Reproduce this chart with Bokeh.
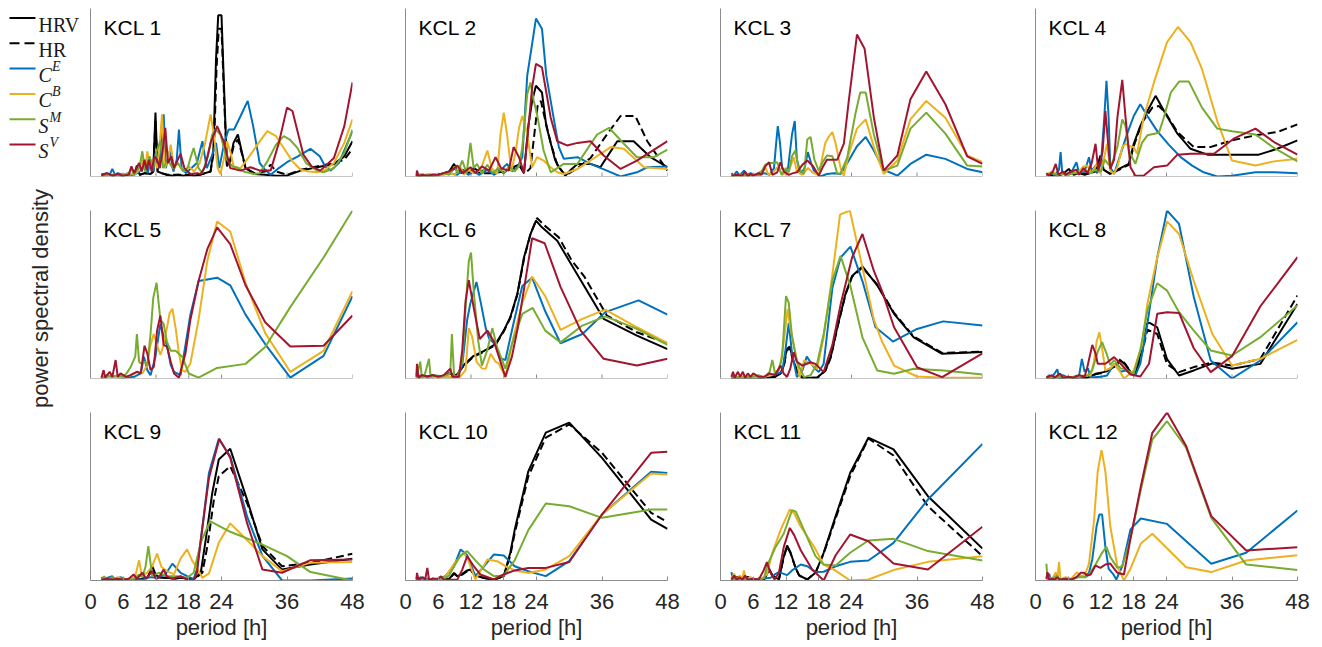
import numpy as np
from bokeh.plotting import figure
from bokeh.layouts import row, column
from bokeh.models import Range1d, FixedTicker, Label, Span
from bokeh.embed import file_html
from bokeh.resources import INLINE
from bokeh.core.properties import value

# ---------------- data (period [h], normalised power spectral density) ----------------
PANEL_TITLES = ["KCL 1", "KCL 2", "KCL 3", "KCL 4", "KCL 5", "KCL 6",
                "KCL 7", "KCL 8", "KCL 9", "KCL 10", "KCL 11", "KCL 12"]
X_TICKS = [0, 6, 12, 18, 24, 36, 48]
SERIES = ["HRV", "HR", "CE", "CB", "SM", "SV"]

KCL1_HRV = [[2,0.01],[3,0.015],[4,0.005],[5,0.01],[6,0.005],[7,0.015],[8,0.01],[8.5,0.065],[9,0.01],[10,0.02],[11,0.015],[11.5,0.03],[11.9,0.38],[12.3,0.03],[13,0.02],[14,0.01],[15,0.005],[16,0.01],[17,0.005],[18,0.01],[19,0.005],[20,0.01],[21,0.02],[22,0.03],[22.5,0.15],[23.0,0.7],[23.4,0.96],[24.0,0.96],[24.5,0.5],[25.0,0.06],[25.6,0.1],[26.2,0.2],[27,0.25],[27.7,0.15],[28.4,0.05],[30,0.015],[32,0.01],[34,0.005],[36,0.005],[38.5,0.035],[41.5,0.055],[44.6,0.075],[46.5,0.12],[48,0.21]]
KCL1_HR = [[2,0.01],[3,0.015],[4,0.005],[5,0.01],[6,0.005],[7,0.015],[8,0.01],[8.5,0.05],[9,0.01],[10,0.02],[11,0.015],[11.5,0.03],[11.9,0.33],[12.3,0.03],[13,0.02],[14,0.01],[16,0.01],[18,0.01],[20,0.01],[21,0.02],[22,0.03],[22.6,0.15],[23.1,0.65],[23.5,0.88],[24.0,0.88],[24.5,0.45],[25.0,0.06],[25.6,0.09],[26.2,0.18],[27,0.22],[27.7,0.14],[28.4,0.05],[30,0.02],[32,0.03],[33,0.07],[34,0.03],[36,0.01],[38.5,0.04],[41.5,0.06],[44.6,0.08],[46.5,0.1],[48,0.165]]
KCL1_CE = [[2,0.01],[3,0.02],[3.5,0.01],[4,0.045],[4.5,0.01],[5,0.02],[6,0.01],[7,0.02],[8,0.01],[9,0.03],[10,0.07],[10.5,0.02],[11,0.1],[11.5,0.03],[12,0.15],[12.5,0.05],[13.1,0.22],[13.4,0.37],[13.8,0.05],[14.5,0.15],[15.2,0.03],[15.8,0.1],[16.2,0.28],[16.7,0.05],[17.5,0.02],[18.5,0.05],[19.5,0.08],[20.5,0.21],[21.3,0.05],[22.2,0.12],[23,0.2],[23.6,0.05],[24.5,0.2],[25.3,0.28],[26.3,0.28],[27.5,0.36],[28.8,0.45],[29.8,0.3],[31,0.08],[32,0.04],[33,0.01],[34.5,0.05],[36,0.085],[38,0.12],[40.3,0.165],[42,0.12],[43,0.06],[44,0.035],[45.5,0.08],[48,0.27]]
KCL1_CB = [[2,0.005],[4,0.01],[6,0.01],[7,0.02],[8,0.01],[9,0.04],[9.5,0.1],[10,0.03],[10.4,0.15],[11,0.05],[11.6,0.1],[12.2,0.05],[12.7,0.2],[13.1,0.37],[13.6,0.05],[14.2,0.1],[14.7,0.19],[15.3,0.05],[16,0.08],[17,0.03],[18,0.06],[19,0.03],[20,0.08],[21,0.2],[22,0.37],[22.6,0.25],[23.3,0.05],[23.8,0.015],[24.4,0.1],[25,0.21],[25.6,0.15],[26.3,0.05],[27.5,0.05],[29,0.115],[30.8,0.2],[32.4,0.27],[34,0.24],[35.4,0.17],[37,0.09],[38.5,0.04],[40,0.03],[41.5,0.025],[43,0.04],[44.6,0.08],[46.5,0.2],[48,0.34]]
KCL1_SM = [[2,0.005],[4,0.01],[6,0.005],[7,0.02],[7.5,0.05],[8,0.01],[9,0.06],[9.5,0.15],[10,0.03],[10.8,0.12],[11.5,0.05],[12.1,0.15],[12.8,0.21],[13.3,0.05],[14.2,0.1],[15,0.05],[16,0.08],[17,0.03],[17.8,0.05],[18.4,0.12],[18.9,0.17],[19.8,0.05],[20.5,0.02],[21.5,0.12],[22.3,0.25],[22.9,0.28],[23.8,0.25],[25,0.1],[26,0.06],[26.9,0.055],[28,0.03],[30,0.015],[31,0.02],[32.4,0.09],[34,0.19],[35.4,0.24],[36.5,0.22],[37.9,0.17],[39.5,0.08],[41.5,0.035],[42.7,0.025],[44.6,0.05],[46.5,0.14],[48,0.28]]
KCL1_SV = [[2,0.005],[3,0.02],[4,0.005],[5,0.015],[6,0.005],[7,0.01],[7.5,0.06],[8,0.02],[8.9,0.08],[9.4,0.03],[9.9,0.1],[10.3,0.04],[10.7,0.1],[11.2,0.03],[11.7,0.12],[12.2,0.1],[12.7,0.05],[13.2,0.15],[13.7,0.29],[14.2,0.08],[14.8,0.12],[15.3,0.05],[16,0.1],[16.5,0.135],[17.2,0.05],[18.3,0.015],[19.5,0.02],[20.2,0.015],[21,0.06],[22,0.2],[23.2,0.3],[24.4,0.21],[25.6,0.05],[27.5,0.035],[29.3,0.055],[31.1,0.035],[33,0.035],[34.5,0.2],[36,0.41],[37,0.39],[39,0.13],[40.5,0.06],[42.1,0.035],[44.6,0.11],[46.5,0.3],[48,0.56]]

KCL2_HRV = [[2,0.01],[3,0.005],[4,0.01],[5,0.005],[6,0.01],[7,0.02],[8,0.03],[8.9,0.075],[9.5,0.03],[10.5,0.04],[11.5,0.02],[12.5,0.05],[13.5,0.03],[15,0.04],[16,0.02],[17,0.04],[18,0.02],[19,0.05],[20,0.06],[20.8,0.07],[21.7,0.02],[22.5,0.3],[23.2,0.45],[23.9,0.54],[25,0.5],[25.8,0.3],[26.6,0.2],[27.4,0.1],[28.1,0.055],[29.3,0.005],[30.3,0.04],[31.5,0.075],[33.9,0.075],[35.7,0.055],[37.2,0.13],[38.8,0.21],[41.8,0.21],[44.9,0.115],[48,0.055]]
KCL2_HR = [[2,0.01],[4,0.01],[6,0.01],[8,0.02],[9,0.05],[10,0.02],[12,0.03],[14,0.02],[16,0.02],[18,0.03],[20,0.05],[21,0.06],[22,0.02],[22.9,0.05],[23.6,0.25],[24.2,0.42],[24.8,0.45],[25.5,0.35],[26.6,0.2],[27.8,0.07],[29.3,0.005],[31.5,0.05],[33.9,0.11],[36.9,0.25],[39.4,0.36],[42.1,0.36],[44.3,0.21],[48,0.035]]
KCL2_CE = [[2,0.01],[4,0.005],[6,0.01],[8,0.02],[9.5,0.01],[10.5,0.04],[11.5,0.01],[12.5,0.03],[13.5,0.01],[15,0.04],[16.2,0.01],[17.5,0.04],[18.6,0.075],[19.5,0.03],[20.5,0.055],[21.4,0.115],[22.3,0.6],[23.2,0.79],[23.9,0.94],[25,0.88],[25.8,0.6],[26.6,0.45],[27.4,0.3],[28.1,0.175],[29,0.105],[31.5,0.115],[33.9,0.075],[36.9,0.035],[39.4,0.0],[42.4,0.025],[44.3,0.055],[48,0.06]]
KCL2_CB = [[2,0.005],[5,0.005],[7,0.01],[8,0.02],[9,0.01],[10,0.06],[10.7,0.01],[11.5,0.04],[12.5,0.02],[13.7,0.035],[15,0.155],[15.8,0.05],[16.8,0.015],[17.4,0.25],[18,0.38],[18.6,0.25],[19.4,0.03],[20.2,0.15],[20.8,0.29],[21.4,0.36],[22.3,0.25],[23.2,0.055],[24.1,0.115],[25.3,0.095],[26.6,0.055],[27.8,0.025],[29,0.015],[31.5,0.045],[33.9,0.095],[37.6,0.175],[40,0.165],[43.7,0.055],[48,0.045]]
KCL2_SM = [[2,0.005],[4,0.01],[6,0.005],[7,0.02],[8,0.01],[9,0.06],[9.5,0.02],[10.4,0.095],[11.2,0.02],[11.9,0.2],[12.5,0.05],[13.1,0.075],[14,0.02],[15,0.07],[16,0.02],[17,0.05],[18,0.02],[19,0.06],[20,0.03],[20.8,0.06],[21.4,0.175],[22.3,0.49],[22.9,0.56],[23.5,0.45],[24.1,0.37],[25.3,0.155],[26.6,0.025],[29,0.075],[31.5,0.075],[35.1,0.25],[37.3,0.29],[40,0.195],[42.4,0.115],[45.5,0.115],[48,0.16]]
KCL2_SV = [[2,0.0],[2.1,0.035],[2.4,0.0],[3,0.01],[4,0.005],[5,0.01],[6,0.01],[7,0.02],[8,0.03],[9,0.05],[9.5,0.065],[10.5,0.02],[11.9,0.055],[12.8,0.02],[14,0.06],[15.3,0.035],[16.5,0.115],[17.5,0.05],[18.9,0.035],[19.8,0.175],[20.8,0.115],[21.7,0.02],[22.4,0.25],[23.2,0.53],[23.9,0.67],[25,0.65],[25.8,0.5],[26.6,0.35],[27.8,0.21],[29.6,0.185],[31.5,0.2],[33.9,0.21],[36.3,0.125],[39.4,0.045],[42.4,0.095],[48,0.21]]

KCL3_CE = [[2,0.02],[2.4,0.005],[3,0.03],[3.5,0.005],[4.3,0.035],[4.9,0.01],[5.5,0.02],[6,0.01],[7,0.01],[8,0.02],[9,0.01],[9.8,0.05],[10.2,0.2],[10.5,0.3],[10.9,0.2],[11.3,0.045],[12.3,0.03],[13.1,0.25],[13.6,0.33],[14,0.1],[14.7,0.015],[15.4,0.05],[16,0.145],[16.6,0.08],[17.1,0.035],[18.3,0.0],[19.5,0.015],[20.8,0.02],[22,0.015],[23.5,0.095],[25,0.18],[26.6,0.235],[28.1,0.155],[29.9,0.04],[32.4,0.005],[34.8,0.075],[37.7,0.13],[41.2,0.105],[45.2,0.045],[48,0.025]]
KCL3_CB = [[2,0.005],[4,0.005],[6,0.01],[7.5,0.02],[8.2,0.055],[8.8,0.01],[9.8,0.03],[10.4,0.055],[11.3,0.01],[12.5,0.03],[13.4,0.115],[14,0.03],[15,0.01],[16,0.05],[17,0.02],[18,0.01],[19.2,0.2],[19.8,0.235],[20.5,0.265],[21.1,0.195],[22,0.05],[22.6,0.005],[23.5,0.135],[25,0.285],[26.6,0.34],[28.1,0.175],[29.9,0.015],[32.4,0.095],[34.8,0.34],[37.7,0.45],[41.2,0.35],[45.2,0.125],[48,0.085]]
KCL3_SM = [[2,0.005],[4,0.01],[6,0.005],[7.5,0.03],[8.2,0.07],[9,0.08],[9.8,0.08],[10.4,0.085],[11.2,0.01],[12,0.05],[12.5,0.025],[13.1,0.12],[13.7,0.155],[14.3,0.05],[15.3,0.015],[15.9,0.22],[16.5,0.235],[17.2,0.1],[18,0.035],[18.8,0.09],[19.5,0.125],[20.5,0.12],[21.4,0.015],[22,0.02],[23.2,0.11],[24.7,0.37],[25.6,0.5],[26.6,0.5],[28.1,0.25],[29.9,0.035],[32.4,0.065],[34.8,0.285],[37.7,0.38],[41.2,0.255],[45.2,0.065],[48,0.06]]
KCL3_SV = [[2,0.005],[3,0.01],[4,0.005],[4.5,0.03],[5,0.0],[5.5,0.015],[6,0.005],[7,0.02],[7.5,0.01],[8.2,0.06],[8.9,0.085],[9.5,0.01],[10.4,0.025],[11,0.085],[11.6,0.03],[12.5,0.01],[13.3,0.02],[14,0.025],[15,0.07],[15.9,0.095],[17,0.06],[18,0.005],[18.8,0.06],[19.5,0.1],[20.5,0.1],[21.4,0.1],[22.6,0.195],[23.5,0.45],[25,0.845],[26.4,0.76],[28.1,0.35],[29.9,0.035],[32.4,0.125],[34.8,0.46],[37.7,0.625],[41.2,0.43],[45.2,0.12],[48,0.075]]

KCL4_HRV = [[2,0.01],[3,0.02],[4,0.005],[5,0.015],[6.1,0.045],[7,0.01],[8,0.02],[9,0.01],[10,0.02],[11,0.03],[11.9,0.125],[12.5,0.04],[13.7,0.015],[15.3,0.045],[17.1,0.075],[18,0.195],[19.2,0.3],[20.5,0.39],[22,0.48],[23.8,0.375],[26,0.255],[28.4,0.165],[31.5,0.13],[36,0.13],[40.9,0.13],[44.3,0.165],[48,0.215]]
KCL4_HR = [[2,0.01],[4,0.005],[6,0.03],[8,0.015],[10,0.02],[11.9,0.1],[12.5,0.04],[13.7,0.015],[15.3,0.04],[17.1,0.07],[18,0.18],[19.5,0.32],[21.4,0.41],[22.6,0.42],[23.8,0.38],[26,0.265],[29,0.175],[32,0.175],[36,0.215],[40.3,0.245],[44.3,0.265],[48,0.31]]
KCL4_CE = [[2,0.01],[3,0.02],[3.5,0.005],[4.3,0.04],[4.6,0.145],[4.9,0.02],[5.5,0.01],[6.5,0.02],[7.5,0.085],[8,0.02],[9,0.03],[9.8,0.115],[10.3,0.03],[10.7,0.05],[11.3,0.02],[12,0.08],[12.6,0.35],[13,0.57],[13.4,0.35],[13.7,0.055],[14.4,0.015],[15.6,0.135],[16.8,0.255],[18,0.36],[19.2,0.43],[20.5,0.36],[22.3,0.27],[24.4,0.19],[26.6,0.115],[28.7,0.065],[30.8,0.025],[33.3,0.0],[36,0.005],[40.3,0.025],[43.7,0.025],[48,0.02]]
KCL4_CB = [[2,0.01],[3,0.03],[4,0.01],[5,0.02],[6,0.01],[7,0.02],[8,0.03],[8.8,0.06],[9.5,0.065],[10.2,0.02],[11.3,0.075],[11.8,0.02],[12.5,0.1],[13.1,0.195],[13.7,0.035],[14.3,0.015],[15,0.055],[15.9,0.175],[16.5,0.195],[17.2,0.18],[18,0.175],[18.6,0.135],[19.8,0.35],[21.7,0.56],[24.1,0.8],[26.1,0.89],[28.4,0.8],[30.5,0.64],[33.3,0.33],[36,0.095],[40.3,0.065],[43.7,0.09],[48,0.105]]
KCL4_SM = [[2,0.01],[3,0.02],[4,0.01],[5,0.015],[6,0.01],[7,0.02],[8,0.02],[9,0.04],[10,0.02],[11,0.04],[12,0.03],[12.7,0.1],[13.4,0.07],[14,0.075],[15,0.175],[15.9,0.34],[16.5,0.3],[17.1,0.155],[18.3,0.075],[19.5,0.2],[20.5,0.245],[22.6,0.26],[23.5,0.35],[24.8,0.5],[26.3,0.565],[28.1,0.565],[30.5,0.41],[33.3,0.285],[36,0.27],[40.3,0.25],[43.7,0.17],[48,0.09]]
KCL4_SV = [[2,0.02],[2.5,0.005],[3.2,0.03],[3.7,0.075],[4.2,0.01],[5,0.03],[5.5,0.01],[6.5,0.03],[7.5,0.04],[8,0.01],[8.8,0.05],[9.5,0.02],[10.3,0.08],[11,0.195],[11.5,0.035],[12.3,0.15],[12.8,0.39],[13.3,0.2],[13.7,0.045],[14.4,0.1],[15,0.35],[15.9,0.575],[16.5,0.35],[17.4,0.055],[18.3,0.005],[19.8,0.005],[21.7,0.055],[24.1,0.065],[26,0.13],[28.4,0.135],[32.7,0.135],[36.3,0.225],[40.3,0.285],[43.7,0.205],[48,0.13]]

KCL5_CE = [[2,0.005],[4,0.01],[6,0.005],[8,0.01],[9.2,0.03],[9.8,0.13],[10.4,0.05],[11,0.02],[11.9,0.13],[12.8,0.325],[13.4,0.25],[14,0.2],[14.7,0.08],[15.3,0.04],[16.5,0.02],[17.4,0.2],[18.3,0.38],[19.8,0.58],[23.2,0.6],[25.6,0.555],[28.4,0.38],[32,0.205],[36.6,0.005],[42.7,0.135],[48,0.49]]
KCL5_CB = [[2,0.005],[4,0.01],[6,0.005],[7.5,0.02],[8.5,0.04],[9.5,0.03],[10.4,0.08],[11,0.2],[11.6,0.265],[12.2,0.2],[12.8,0.14],[13.4,0.2],[14,0.3],[14.5,0.39],[15,0.415],[15.6,0.3],[16.2,0.15],[16.8,0.05],[17.4,0.04],[18.3,0.09],[19.8,0.35],[21.4,0.7],[23.2,0.935],[25.6,0.875],[28.4,0.57],[32,0.27],[36.6,0.04],[42.7,0.165],[48,0.52]]
KCL5_SM = [[2,0.005],[3,0.02],[4,0.01],[5,0.02],[6,0.01],[6.7,0.035],[7.3,0.065],[8.2,0.13],[8.5,0.265],[8.9,0.1],[9.2,0.09],[10,0.1],[10.4,0.075],[11,0.265],[11.5,0.48],[12.1,0.57],[12.8,0.35],[13.4,0.325],[14,0.22],[14.7,0.165],[15.6,0.165],[16.8,0.13],[18,0.03],[19.8,0.005],[23.2,0.063],[28.4,0.087],[32,0.187],[36.6,0.425],[42.7,0.72],[48,1.0]]
KCL5_SV = [[2,0.005],[2.4,0.05],[2.7,0.005],[3.5,0.04],[4,0.01],[4.6,0.11],[5,0.01],[5.5,0.03],[6.5,0.01],[7.3,0.02],[8.5,0.04],[9.2,0.03],[9.9,0.195],[10.4,0.15],[11,0.05],[11.6,0.07],[12.2,0.285],[12.8,0.375],[13.4,0.2],[14,0.19],[14.7,0.1],[15.3,0.03],[16.2,0.005],[17.4,0.15],[18.3,0.35],[19.8,0.58],[21.4,0.77],[23.2,0.9],[25.6,0.8],[28.4,0.555],[32,0.335],[36.6,0.19],[42.7,0.195],[48,0.375]]

KCL6_HRV = [[2,0.03],[2.5,0.005],[3,0.02],[4,0.01],[5,0.02],[6,0.01],[7,0.015],[8,0.03],[9,0.02],[9.5,0.025],[10.4,0.07],[11.3,0.1],[12.5,0.135],[14.4,0.165],[16.5,0.205],[18,0.285],[19.2,0.365],[20.5,0.505],[21.7,0.72],[22.9,0.86],[23.9,0.94],[25,0.9],[27.8,0.82],[30,0.7],[32.1,0.585],[36.3,0.355],[42.4,0.255],[48,0.175]]
KCL6_HR = [[2,0.03],[2.5,0.005],[3,0.02],[4,0.01],[5,0.02],[6,0.01],[7,0.015],[8,0.03],[9,0.02],[9.5,0.025],[10.4,0.065],[11.3,0.095],[12.5,0.13],[14.4,0.16],[16.5,0.2],[18,0.28],[19.2,0.36],[20.5,0.5],[21.7,0.71],[22.9,0.86],[24.1,0.955],[25.5,0.91],[28.1,0.84],[30.5,0.7],[32.7,0.61],[36.9,0.375],[42.4,0.275],[48,0.21]]
KCL6_CE = [[2,0.005],[3,0.02],[4,0.005],[6,0.01],[8,0.01],[9.5,0.01],[10.4,0.08],[11.3,0.35],[11.9,0.45],[13,0.575],[13.8,0.45],[14.7,0.3],[15.3,0.24],[16.5,0.2],[17.4,0.12],[18.3,0.11],[19.8,0.33],[21.4,0.55],[23.2,0.6],[25.6,0.4],[28.4,0.21],[32.4,0.265],[36.6,0.395],[42.7,0.465],[48,0.38]]
KCL6_CB = [[2,0.005],[4,0.01],[6,0.005],[8,0.01],[9,0.005],[10,0.01],[11,0.05],[11.6,0.3],[12.2,0.25],[13,0.1],[14,0.06],[14.7,0.058],[15.6,0.147],[16.5,0.1],[17.1,0.088],[18.3,0.01],[19.8,0.25],[21.4,0.45],[23.2,0.607],[25.6,0.49],[28.4,0.29],[32.4,0.355],[36.6,0.41],[42.4,0.305],[48,0.21]]
KCL6_SM = [[2,0.005],[2.7,0.1],[3,0.005],[3.5,0.02],[4.3,0.117],[4.6,0.01],[5.5,0.02],[6.5,0.01],[7.5,0.02],[8.2,0.03],[8.5,0.265],[8.9,0.02],[9.5,0.01],[10.4,0.1],[11,0.42],[11.6,0.7],[12,0.75],[12.5,0.52],[13.3,0.23],[14,0.077],[15,0.17],[15.9,0.3],[16.8,0.185],[18.3,0.058],[19.5,0.205],[21.4,0.385],[23.3,0.42],[25.6,0.285],[28.4,0.215],[32.4,0.315],[36.6,0.37],[42.4,0.295],[48,0.2]]
KCL6_SV = [[2,0.01],[2.1,0.087],[2.4,0.005],[3,0.02],[4,0.01],[5,0.02],[6,0.01],[7,0.02],[8.2,0.058],[8.6,0.01],[9.8,0.01],[10.4,0.17],[11,0.46],[11.6,0.585],[12.5,0.42],[13.6,0.235],[15,0.285],[16.2,0.22],[17.1,0.13],[18.3,0.01],[19.5,0.13],[20.5,0.29],[21.7,0.53],[23.2,0.835],[25.5,0.805],[28.4,0.545],[32.1,0.285],[36.3,0.117],[42.4,0.077],[48,0.117]]

KCL7_HRV = [[2,0.005],[4,0.005],[6,0.005],[8,0.005],[10,0.01],[11,0.03],[11.6,0.077],[12.1,0.175],[12.7,0.19],[13.4,0.1],[14.2,0.035],[15,0.004],[16.5,0.004],[17.7,0.004],[19.2,0.048],[20.2,0.13],[21.4,0.305],[22.9,0.505],[24.1,0.61],[26,0.667],[28.7,0.555],[31.8,0.385],[35.4,0.245],[40.6,0.147],[48,0.157]]
KCL7_HR = [[2,0.005],[4,0.005],[6,0.005],[8,0.005],[10,0.01],[11,0.03],[11.6,0.07],[12.1,0.165],[12.7,0.18],[13.4,0.095],[14.2,0.03],[15,0.004],[17.7,0.004],[19.2,0.045],[20.2,0.125],[21.4,0.3],[22.9,0.5],[24.1,0.605],[26,0.66],[28.7,0.56],[31.8,0.39],[35.4,0.25],[40.6,0.152],[48,0.16]]
KCL7_CE = [[2,0.005],[4,0.01],[6,0.005],[8,0.01],[9.5,0.02],[10.5,0.03],[11.3,0.04],[11.9,0.17],[12.5,0.33],[13.1,0.15],[14,0.008],[15,0.048],[15.8,0.13],[17.1,0.068],[18,0.038],[18.9,0.088],[20.5,0.54],[22,0.72],[23.8,0.785],[26,0.58],[28.4,0.305],[31.6,0.22],[36,0.295],[40.8,0.34],[48,0.315]]
KCL7_CB = [[2,0.005],[4,0.01],[6,0.005],[8,0.01],[9.5,0.02],[10.5,0.05],[11,0.09],[11.6,0.22],[12.3,0.415],[12.8,0.3],[13.7,0.16],[14.5,0.008],[15.3,0.107],[16.5,0.09],[17.7,0.058],[18.9,0.245],[20.5,0.62],[21.9,0.975],[23.7,1.0],[25.6,0.72],[28.1,0.35],[29.6,0.22],[31.8,0.077],[36,0.012],[40.9,0.004],[48,0.004]]
KCL7_SM = [[2,0.01],[4,0.005],[6,0.01],[7,0.02],[8,0.005],[9,0.04],[9.5,0.11],[10,0.03],[10.7,0.05],[11.3,0.13],[12,0.49],[12.5,0.45],[13.1,0.25],[14,0.1],[15.3,0.008],[16.5,0.02],[17.7,0.088],[18.9,0.265],[20.5,0.585],[22,0.73],[23.8,0.55],[26,0.245],[28.7,0.048],[31.8,0.028],[35.4,0.058],[40.9,0.048],[48,0.024]]
KCL7_SV = [[2,0.01],[2.3,0.04],[2.6,0.005],[3.2,0.04],[3.6,0.01],[4.1,0.04],[4.5,0.005],[5,0.03],[5.5,0.01],[6,0.03],[7,0.01],[8,0.01],[9,0.03],[10,0.02],[11,0.077],[11.6,0.028],[12.2,0.01],[12.8,0.06],[13.4,0.157],[14,0.1],[15,0.077],[16.5,0.097],[17.4,0.087],[18.9,0.038],[20.5,0.2],[22,0.44],[24.1,0.72],[26,0.86],[28.1,0.64],[29.6,0.52],[31.8,0.305],[36,0.067],[40.6,0.008],[48,0.15]]

KCL8_HRV = [[2,0.005],[4,0.005],[6,0.005],[8,0.005],[9.5,0.005],[11,0.028],[12.5,0.038],[13.7,0.06],[14.4,0.068],[15.6,0.107],[16.5,0.08],[17.4,0.04],[18.3,0.028],[19.5,0.18],[20.5,0.33],[21,0.33],[22.3,0.305],[24.1,0.115],[26.3,0.018],[29,0.048],[32.4,0.09],[36,0.058],[41.2,0.087],[48,0.444]]
KCL8_HR = [[2,0.005],[4,0.005],[6,0.005],[8,0.005],[9.5,0.005],[11,0.025],[12.5,0.035],[13.7,0.055],[14.4,0.07],[15.6,0.115],[16.5,0.085],[17.4,0.04],[18.3,0.025],[19.5,0.15],[20.5,0.29],[22.3,0.265],[24.1,0.085],[26.3,0.038],[29,0.068],[32.4,0.095],[36,0.077],[41.2,0.117],[48,0.494]]
KCL8_CE = [[2,0.005],[2.5,0.02],[3,0.005],[4,0.055],[4.3,0.005],[5,0.02],[6,0.005],[7,0.01],[8,0.02],[8.5,0.117],[9,0.04],[9.6,0.06],[10.1,0.01],[10.7,0.008],[12,0.01],[13.1,0.018],[14.4,0.087],[15.6,0.04],[16.5,0.048],[18.3,0.018],[19.2,0.088],[20.5,0.325],[22.3,0.72],[24.1,1.0],[26.3,0.92],[29,0.485],[32.1,0.107],[36,0.0],[41.2,0.107],[48,0.335]]
KCL8_CB = [[2,0.005],[4,0.01],[6,0.005],[8,0.01],[9,0.02],[10.1,0.018],[10.7,0.1],[11.2,0.22],[11.7,0.275],[12.2,0.18],[12.8,0.048],[13.7,0.06],[14.4,0.087],[15.3,0.05],[16.2,0.0],[18,0.048],[19.5,0.2],[20.5,0.445],[22.3,0.72],[24.1,0.935],[26.3,0.86],[29,0.58],[32.4,0.265],[36,0.077],[41.2,0.117],[48,0.23]]
KCL8_SM = [[2,0.005],[4,0.01],[6,0.005],[8,0.01],[9.5,0.015],[10.4,0.05],[11.4,0.16],[12.2,0.216],[13,0.15],[13.7,0.08],[14.4,0.11],[15.6,0.06],[16.2,0.058],[18,0.028],[19.2,0.168],[20.5,0.405],[22.3,0.567],[24.1,0.523],[26.3,0.395],[29,0.285],[32.1,0.167],[36,0.137],[41.2,0.246],[48,0.435]]
KCL8_SV = [[2,0.005],[3,0.02],[3.5,0.005],[4.5,0.03],[5,0.005],[6,0.01],[7,0.005],[8,0.02],[9,0.01],[9.5,0.068],[10.4,0.2],[11,0.15],[11.4,0.088],[12.8,0.088],[14.4,0.127],[15.6,0.088],[17.4,0.024],[19.2,0.012],[20.8,0.088],[22.3,0.385],[24.1,0.395],[26.3,0.39],[29,0.18],[32.1,0.038],[36,0.133],[41.2,0.43],[48,0.722]]

KCL9_HRV = [[2,0.01],[3,0.005],[4,0.015],[5,0.005],[6,0.01],[8,0.005],[9.5,0.01],[10.5,0.02],[11.3,0.085],[12,0.03],[12.8,0.016],[14,0.016],[15.5,0.01],[16.5,0.016],[18.9,0.006],[20.2,0.046],[21.1,0.24],[22.3,0.52],[23.5,0.72],[25.6,0.784],[28.7,0.48],[31.5,0.185],[35.1,0.065],[40.3,0.095],[48,0.129]]
KCL9_HR = [[2,0.01],[3,0.005],[4,0.015],[5,0.005],[6,0.01],[8,0.005],[9.5,0.01],[10.5,0.02],[11.3,0.07],[12,0.03],[12.8,0.016],[14,0.016],[16.5,0.016],[18.9,0.006],[20.5,0.046],[21.5,0.22],[22.6,0.48],[23.5,0.62],[25.6,0.68],[28.7,0.46],[31.5,0.205],[35.1,0.085],[40.3,0.105],[48,0.159]]
KCL9_CE = [[2,0.02],[2.5,0.005],[3,0.015],[4,0.025],[4.5,0.005],[5.5,0.02],[6.5,0.005],[8,0.01],[9.5,0.005],[11,0.02],[12.2,0.016],[13.7,0.036],[15,0.1],[16.5,0.046],[17.7,0.026],[18.9,0.01],[19.5,0.066],[20.2,0.24],[21.7,0.64],[23.5,0.843],[25.6,0.74],[28.7,0.38],[31.5,0.146],[35.1,0.0],[40.3,0.0],[48,0.012]]
KCL9_CB = [[2,0.005],[3,0.01],[4,0.005],[5,0.02],[6,0.005],[7.5,0.01],[8.2,0.026],[8.9,0.12],[9.4,0.03],[10.4,0.046],[11.3,0.085],[12.2,0.16],[13,0.08],[14,0.056],[15.3,0.036],[16.5,0.13],[17.7,0.185],[18.6,0.12],[19.5,0.076],[20.5,0.016],[21.7,0.042],[23.5,0.224],[25.6,0.34],[28.7,0.24],[31.5,0.145],[35.1,0.056],[40.3,0.105],[48,0.11]]
KCL9_SM = [[2,0.005],[2.5,0.025],[3,0.005],[4,0.02],[5,0.005],[6,0.01],[7,0.005],[8,0.01],[8.9,0.036],[9.5,0.02],[10.1,0.085],[10.6,0.204],[11.3,0.026],[12.5,0.046],[14,0.026],[15.9,0.026],[17.7,0.016],[18.9,0.046],[20.2,0.225],[21.9,0.353],[25.6,0.29],[31.5,0.214],[36,0.145],[40.3,0.05],[48,0.0]]
KCL9_SV = [[2,0.005],[3,0.01],[4,0.005],[5,0.01],[6,0.005],[7,0.01],[7.9,0.036],[8.5,0.01],[9.5,0.046],[10.2,0.01],[11.3,0.056],[12,0.01],[12.5,0.016],[13.4,0.065],[14,0.025],[15,0.01],[16.5,0.026],[17.7,0.006],[18.9,0.0],[19.5,0.046],[20.2,0.24],[21.7,0.61],[23.6,0.843],[25.6,0.73],[28.7,0.34],[31.5,0.065],[35.1,0.046],[40.3,0.121],[48,0.125]]

KCL10_HRV = [[2,0.01],[2.5,0.005],[3,0.01],[4,0.005],[5,0.01],[6,0.005],[7,0.01],[8,0.01],[8.9,0.045],[9.5,0.025],[10.4,0.04],[11.3,0.06],[11.9,0.065],[12.8,0.03],[14.4,0.015],[16.2,0.006],[18,0.026],[19.2,0.165],[20,0.3],[22.5,0.65],[25.7,0.88],[30,0.94],[36,0.73],[45,0.363],[48,0.307]]
KCL10_HR = [[2,0.01],[2.5,0.005],[3,0.01],[4,0.005],[5,0.01],[6,0.005],[7,0.01],[8,0.01],[8.9,0.04],[9.5,0.025],[10.4,0.035],[11.3,0.055],[11.9,0.06],[12.8,0.03],[14.4,0.015],[16.2,0.006],[18,0.022],[19.2,0.15],[20,0.28],[22.5,0.62],[25.7,0.85],[30,0.93],[36,0.76],[45,0.403],[48,0.347]]
KCL10_CE = [[2,0.02],[2.2,0.005],[2.8,0.02],[3.2,0.005],[4,0.01],[5,0.005],[6,0.01],[7.3,0.026],[8.9,0.085],[10.1,0.185],[11.3,0.15],[12.8,0.026],[14.4,0.085],[16.2,0.155],[18,0.149],[20,0.085],[22.5,0.055],[25.7,0.026],[30,0.115],[36,0.393],[45,0.647],[48,0.64]]
KCL10_CB = [[2,0.005],[4,0.005],[6,0.01],[7.3,0.02],[8.9,0.1],[10.7,0.165],[11.5,0.12],[12.8,0.006],[15,0.125],[16.8,0.115],[18.3,0.085],[20,0.06],[22.5,0.045],[25.7,0.066],[30,0.145],[36,0.393],[45,0.637],[48,0.631]]
KCL10_SM = [[2,0.005],[4,0.005],[6,0.005],[7,0.01],[8,0.03],[8.9,0.085],[10.1,0.15],[11.3,0.175],[12.8,0.12],[14.4,0.065],[16.2,0.026],[18,0.03],[20,0.12],[22.5,0.3],[25.7,0.458],[30,0.442],[36,0.373],[45,0.423],[48,0.423]]
KCL10_SV = [[2,0.005],[2.1,0.045],[2.4,0.005],[3.2,0.02],[3.6,0.005],[4,0.075],[4.3,0.005],[5,0.01],[6,0.01],[6.5,0.025],[7,0.005],[8,0.005],[9.5,0.005],[10.4,0.065],[11.3,0.145],[12.5,0.085],[13.7,0.036],[16.2,0.006],[18,0.036],[20,0.06],[22.5,0.075],[25.7,0.075],[30,0.11],[36,0.393],[45,0.76],[48,0.766]]

KCL11_HRV = [[2,0.01],[3,0.02],[4,0.005],[5,0.02],[6,0.005],[7,0.01],[8,0.005],[8.9,0.07],[9.5,0.03],[10.7,0.006],[11.6,0.145],[12.2,0.208],[12.8,0.17],[13.7,0.08],[14.4,0.03],[15.9,0.006],[17.4,0.046],[18.9,0.165],[21.1,0.383],[23.75,0.64],[27.1,0.85],[31.7,0.78],[38,0.502],[48,0.19]]
KCL11_HR = [[2,0.01],[3,0.02],[4,0.005],[5,0.02],[6,0.005],[7,0.01],[8,0.005],[8.9,0.065],[9.5,0.03],[10.7,0.006],[11.6,0.14],[12.2,0.2],[12.8,0.165],[13.7,0.08],[14.4,0.03],[15.9,0.006],[17.4,0.046],[18.9,0.16],[21.1,0.37],[23.75,0.62],[27.1,0.845],[31.7,0.744],[38,0.442],[48,0.145]]
KCL11_CE = [[2,0.05],[2.3,0.005],[3,0.01],[4,0.005],[5,0.01],[6,0.005],[7.5,0.01],[9.2,0.016],[10.1,0.04],[10.7,0.05],[12.2,0.032],[13.1,0.06],[14.7,0.095],[15.9,0.085],[17.4,0.05],[18.9,0.052],[21.1,0.085],[23.75,0.111],[27.1,0.119],[31.7,0.224],[38,0.482],[48,0.813]]
KCL11_CB = [[2,0.01],[2.5,0.04],[3,0.005],[3.5,0.03],[4,0.01],[4.3,0.06],[4.7,0.005],[5.5,0.02],[6.5,0.005],[7.5,0.01],[8.5,0.036],[9.5,0.165],[11,0.3],[12.7,0.423],[13.5,0.4],[14.7,0.32],[17.1,0.204],[18.9,0.095],[20.8,0.065],[23.75,0.0],[27.1,0.006],[31.7,0.062],[38,0.111],[48,0.145]]
KCL11_SM = [[2,0.005],[3,0.01],[4,0.005],[5,0.01],[6,0.005],[7,0.005],[8,0.015],[8.5,0.085],[10.1,0.2],[11.6,0.28],[13.1,0.419],[13.8,0.41],[15.3,0.3],[17.4,0.145],[18.9,0.095],[21.1,0.09],[23.75,0.165],[27.1,0.238],[31.7,0.248],[38,0.175],[48,0.119]]
KCL11_SV = [[2,0.005],[2.5,0.03],[3,0.005],[3.5,0.02],[4,0.005],[4.5,0.03],[5,0.005],[6,0.01],[7,0.005],[7.9,0.06],[8.5,0.109],[9.1,0.05],[9.9,0.006],[10.7,0.046],[11.6,0.2],[12.7,0.313],[13.5,0.27],[14.7,0.18],[16.8,0.065],[18.9,0.0],[21.1,0.15],[23.75,0.274],[27.1,0.234],[31.7,0.101],[38,0.065],[48,0.32]]

KCL12_CE = [[2,0.01],[2.5,0.04],[2.8,0.005],[3.5,0.02],[4,0.005],[5,0.01],[6,0.005],[7,0.01],[8,0.03],[9,0.02],[9.8,0.046],[10.4,0.125],[11.2,0.325],[11.7,0.393],[12.2,0.393],[12.8,0.2],[13.4,0.07],[14.2,0.04],[14.8,0.006],[15.9,0.085],[17.4,0.304],[19.3,0.369],[24.1,0.337],[32.2,0.1],[38.6,0.165],[48,0.417]]
KCL12_CB = [[2,0.01],[2.5,0.02],[3,0.005],[3.7,0.05],[4,0.005],[4.3,0.109],[4.6,0.005],[5.5,0.02],[6.5,0.01],[7.6,0.05],[8.5,0.02],[9.2,0.046],[9.8,0.1],[10.7,0.35],[11.4,0.65],[12.1,0.776],[12.8,0.65],[13.7,0.323],[15,0.085],[16.2,0.0],[17.4,0.07],[19.3,0.22],[21.4,0.278],[27.6,0.079],[32.2,0.05],[38.6,0.119],[48,0.151]]
KCL12_SM = [[2,0.1],[2.2,0.005],[3,0.01],[4,0.03],[4.3,0.005],[5,0.01],[6,0.005],[7,0.01],[8,0.02],[9.2,0.02],[9.8,0.036],[11,0.095],[12.2,0.165],[13,0.2],[13.7,0.14],[15,0.075],[15.9,0.085],[17.4,0.25],[19.3,0.54],[21.4,0.839],[24.1,0.948],[27.6,0.79],[32.2,0.373],[38.6,0.095],[48,0.062]]
KCL12_SV = [[2,0.01],[2.2,0.05],[2.5,0.005],[3,0.01],[3.5,0.005],[4,0.02],[4.5,0.005],[5.5,0.01],[6.5,0.005],[7.5,0.02],[8.3,0.046],[8.9,0.046],[9.5,0.03],[10.1,0.036],[11,0.089],[11.9,0.075],[12.8,0.095],[13.7,0.101],[15,0.046],[16.2,0.036],[17.4,0.25],[19.3,0.561],[21.4,0.879],[24.1,1.0],[27.6,0.8],[32.2,0.383],[38.6,0.179],[48,0.198]]

PANELS = [
    {"HRV": KCL1_HRV, "HR": KCL1_HR, "CE": KCL1_CE, "CB": KCL1_CB, "SM": KCL1_SM, "SV": KCL1_SV},
    {"HRV": KCL2_HRV, "HR": KCL2_HR, "CE": KCL2_CE, "CB": KCL2_CB, "SM": KCL2_SM, "SV": KCL2_SV},
    {"CE": KCL3_CE, "CB": KCL3_CB, "SM": KCL3_SM, "SV": KCL3_SV},
    {"HRV": KCL4_HRV, "HR": KCL4_HR, "CE": KCL4_CE, "CB": KCL4_CB, "SM": KCL4_SM, "SV": KCL4_SV},
    {"CE": KCL5_CE, "CB": KCL5_CB, "SM": KCL5_SM, "SV": KCL5_SV},
    {"HRV": KCL6_HRV, "HR": KCL6_HR, "CE": KCL6_CE, "CB": KCL6_CB, "SM": KCL6_SM, "SV": KCL6_SV},
    {"HRV": KCL7_HRV, "HR": KCL7_HR, "CE": KCL7_CE, "CB": KCL7_CB, "SM": KCL7_SM, "SV": KCL7_SV},
    {"HRV": KCL8_HRV, "HR": KCL8_HR, "CE": KCL8_CE, "CB": KCL8_CB, "SM": KCL8_SM, "SV": KCL8_SV},
    {"HRV": KCL9_HRV, "HR": KCL9_HR, "CE": KCL9_CE, "CB": KCL9_CB, "SM": KCL9_SM, "SV": KCL9_SV},
    {"HRV": KCL10_HRV, "HR": KCL10_HR, "CE": KCL10_CE, "CB": KCL10_CB, "SM": KCL10_SM, "SV": KCL10_SV},
    {"HRV": KCL11_HRV, "HR": KCL11_HR, "CE": KCL11_CE, "CB": KCL11_CB, "SM": KCL11_SM, "SV": KCL11_SV},
    {"CE": KCL12_CE, "CB": KCL12_CB, "SM": KCL12_SM, "SV": KCL12_SV},
]

# ---------------- styling ----------------
COLORS = {"HRV": "#000000", "HR": "#000000", "CE": "#0072BD",
          "CB": "#EDB120", "SM": "#77AC30", "SV": "#A2142F"}
DASHES = {"HR": "8 4"}
AXIS_GRAY = "#8c8c8c"
SANS = "Liberation Sans"
SERIF = "Liberation Serif"

FRAME_W, FRAME_H = 262, 168
LEFT_W = 83
TOTAL_H = 646
TICK_LEN = 4  # px, ticks point into the axes


def make_panel(idx):
    r, c = divmod(idx, 4)
    bl, br = 7, (46 if c < 3 else 25)
    bt, bb = 8, (26 if r < 2 else 66)
    p = figure(width=bl + FRAME_W + br, height=bt + FRAME_H + bb,
               x_range=Range1d(0, 48), y_range=Range1d(0, 1),
               output_backend="svg", toolbar_location=None,
               min_border_left=bl, min_border_right=br,
               min_border_top=bt, min_border_bottom=bb)
    p.outline_line_color = None
    p.grid.visible = False
    p.background_fill_color = "white"
    p.border_fill_color = "white"

    xa = p.xaxis[0]
    if r < 2:
        # unlabeled x axis: spine + inward ticks only
        xa.visible = False
        p.add_layout(Span(location=0, dimension="width", line_color=AXIS_GRAY, line_width=1))
        p.segment(x0=X_TICKS, y0=[0] * len(X_TICKS), x1=X_TICKS,
                  y1=[TICK_LEN / FRAME_H] * len(X_TICKS),
                  line_color=AXIS_GRAY, line_width=1)
    else:
        xa.ticker = FixedTicker(ticks=X_TICKS)
        xa.axis_line_color = AXIS_GRAY
        xa.major_tick_line_color = AXIS_GRAY
        xa.major_tick_in = TICK_LEN
        xa.major_tick_out = 0
        xa.minor_tick_line_color = None
        xa.major_label_text_font = SANS
        xa.major_label_text_font_size = "22px"
        xa.major_label_text_color = "#262626"
        xa.major_label_standoff = 13
        xa.axis_label = "period [h]"
        xa.axis_label_text_font = SANS
        xa.axis_label_text_font_size = "22px"
        xa.axis_label_text_font_style = "normal"
        xa.axis_label_text_color = "#262626"
        xa.axis_label_standoff = 3

    ya = p.yaxis[0]
    ya.ticker = FixedTicker(ticks=[])
    ya.axis_line_color = AXIS_GRAY
    ya.major_tick_in = 0
    ya.major_tick_out = 0
    ya.minor_tick_line_color = None
    ya.major_label_standoff = 0

    data = PANELS[idx]
    for key in SERIES:
        if key not in data:
            continue
        xs = [pt[0] for pt in data[key]]
        ys = [pt[1] for pt in data[key]]
        p.line(xs, ys, line_color=COLORS[key], line_width=2,
               line_dash=DASHES.get(key, "solid"))

    p.add_layout(Label(x=13, y=FRAME_H - 7, x_units="screen", y_units="screen",
                       text=PANEL_TITLES[idx], text_font=SANS,
                       text_font_size="21px", text_color="#000000",
                       text_baseline="top", text_align="left"))
    return p


# ---------------- left strip: legend + y label ----------------
lf = figure(width=LEFT_W, height=TOTAL_H, x_range=Range1d(0, LEFT_W),
            y_range=Range1d(0, TOTAL_H), output_backend="svg",
            toolbar_location=None, x_axis_location=None, y_axis_location=None,
            min_border=0)
lf.outline_line_color = None
lf.grid.visible = False

LEG_TOP, LEG_STEP = 17.5, 25.3
LEG_X0, LEG_X1, LEG_TX = 9, 35, 38
leg_base = [("HRV", None), ("HR", None), ("C", "E"), ("C", "B"), ("S", "M"), ("S", "V")]
for i, key in enumerate(SERIES):
    yy = TOTAL_H - (LEG_TOP + LEG_STEP * i)
    lf.line([LEG_X0, LEG_X1], [yy, yy], line_color=COLORS[key], line_width=2,
            line_dash="10 5" if key == "HR" else "solid")
    base, sup = leg_base[i]
    italic = sup is not None
    lf.text(x=[LEG_TX], y=[yy - 6.5], text=[base], text_font=value(SERIF),
            text_font_size="20px", text_font_style="italic" if italic else "normal",
            text_color="#1a1a1a", text_baseline="alphabetic", text_align="left")
    if sup:
        sx = LEG_TX + (13.5 if base == "C" else 11)
        lf.text(x=[sx], y=[yy + 2], text=[sup], text_font=value(SERIF),
                text_font_size="14px", text_font_style="italic",
                text_color="#1a1a1a", text_baseline="alphabetic", text_align="left")

lf.text(x=[40], y=[TOTAL_H - 298], text=["power spectral density"], angle=np.pi / 2,
        text_font=value(SANS), text_font_size="22px", text_color="#262626",
        text_align="center", text_baseline="middle")

panels = [make_panel(i) for i in range(12)]
grid = column(row(*panels[0:4]), row(*panels[4:8]), row(*panels[8:12]))
layout = row(lf, grid)

open("out.html", "w").write(file_html(layout, INLINE))
